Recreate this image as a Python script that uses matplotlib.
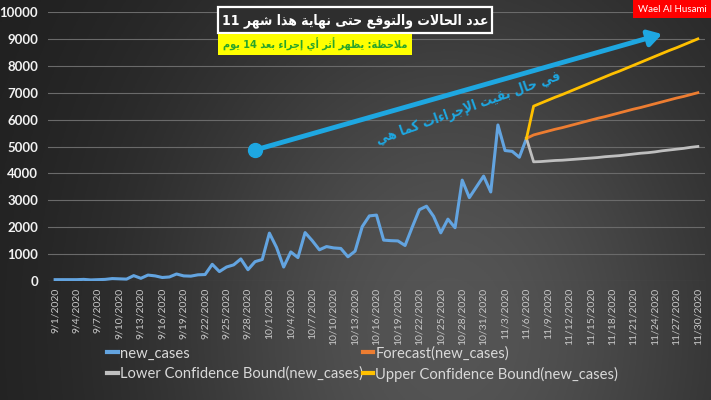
import re
import numpy as np
import pandas as pd
import matplotlib
matplotlib.use("Agg")
import matplotlib.pyplot as plt
from matplotlib.patches import Rectangle

# ---------------- data ----------------
dates = pd.date_range("2020-09-01", "2020-11-30", freq="D")
date_labels = [f"{d.month}/{d.day}/{d.year}" for d in dates]

new_cases = [50, 50, 50, 50, 60, 40, 50, 60, 90, 80,
             70, 200, 100, 220, 190, 130, 150, 260, 190, 180,
             230, 240, 620, 350, 520, 600, 820, 420, 720, 800,
             1780, 1250, 520, 1080, 870, 1800, 1500, 1160, 1280, 1230,
             1210, 900, 1110, 2020, 2420, 2450, 1520, 1500, 1490, 1320,
             2000, 2650, 2780, 2400, 1790, 2300, 1980, 3750, 3100, 3500,
             3900, 3310, 5800, 4850, 4820, 4600, 5300]

forecast = [5300, 5430, 5500, 5570, 5640, 5700, 5770, 5840, 5910, 5980,
            6050, 6110, 6180, 6250, 6320, 6390, 6450, 6520, 6590, 6660,
            6730, 6800, 6860, 6930, 7000]
lower_cb = [5300, 4430, 4440, 4460, 4480, 4490, 4510, 4530, 4550, 4570,
            4590, 4620, 4640, 4660, 4690, 4720, 4750, 4770, 4800, 4840,
            4870, 4900, 4930, 4970, 5000]
upper_cb = [5300, 6500, 6610, 6720, 6830, 6930, 7040, 7150, 7260, 7370,
            7480, 7590, 7700, 7800, 7910, 8020, 8130, 8240, 8350, 8460,
            8570, 8670, 8780, 8890, 9000]

title_text = "عدد الحالات والتوقع حتى نهاية هذا شهر 11"
note_text = "ملاحظة: يظهر أثر أي إجراء بعد 14 يوم"
arrow_text = "في حال بقيت الإجراءات كما هي"
author_text = "Wael Al Husami"

# ---------------- minimal Arabic shaping ----------------
FORMS = {
    'ء': ('\uFE80', None, None, None),
    'أ': ('\uFE83', '\uFE84', None, None),
    'إ': ('\uFE87', '\uFE88', None, None),
    'ا': ('\uFE8D', '\uFE8E', None, None),
    'ب': ('\uFE8F', '\uFE90', '\uFE91', '\uFE92'),
    'ة': ('\uFE93', '\uFE94', None, None),
    'ت': ('\uFE95', '\uFE96', '\uFE97', '\uFE98'),
    'ث': ('\uFE99', '\uFE9A', '\uFE9B', '\uFE9C'),
    'ج': ('\uFE9D', '\uFE9E', '\uFE9F', '\uFEA0'),
    'ح': ('\uFEA1', '\uFEA2', '\uFEA3', '\uFEA4'),
    'د': ('\uFEA9', '\uFEAA', None, None),
    'ذ': ('\uFEAB', '\uFEAC', None, None),
    'ر': ('\uFEAD', '\uFEAE', None, None),
    'ش': ('\uFEB5', '\uFEB6', '\uFEB7', '\uFEB8'),
    'ظ': ('\uFEC5', '\uFEC6', '\uFEC7', '\uFEC8'),
    'ع': ('\uFEC9', '\uFECA', '\uFECB', '\uFECC'),
    'ف': ('\uFED1', '\uFED2', '\uFED3', '\uFED4'),
    'ق': ('\uFED5', '\uFED6', '\uFED7', '\uFED8'),
    'ك': ('\uFED9', '\uFEDA', '\uFEDB', '\uFEDC'),
    'ل': ('\uFEDD', '\uFEDE', '\uFEDF', '\uFEE0'),
    'م': ('\uFEE1', '\uFEE2', '\uFEE3', '\uFEE4'),
    'ن': ('\uFEE5', '\uFEE6', '\uFEE7', '\uFEE8'),
    'ه': ('\uFEE9', '\uFEEA', '\uFEEB', '\uFEEC'),
    'و': ('\uFEED', '\uFEEE', None, None),
    'ى': ('\uFEEF', '\uFEF0', None, None),
    'ي': ('\uFEF1', '\uFEF2', '\uFEF3', '\uFEF4'),
}
LAM_ALEF = {'ا': ('\uFEFB', '\uFEFC'), 'أ': ('\uFEF7', '\uFEF8'),
            'إ': ('\uFEF9', '\uFEFA')}


def shape_ar(text):
    out = []
    n = len(text)
    i = 0
    prev_joins = False

    def dual(c):
        f = FORMS.get(c)
        return f is not None and f[2] is not None

    while i < n:
        c = text[i]
        if c not in FORMS:
            out.append(c)
            prev_joins = False
            i += 1
            continue
        if c == 'ل' and i + 1 < n and text[i + 1] in LAM_ALEF:
            iso, fin = LAM_ALEF[text[i + 1]]
            out.append(fin if prev_joins else iso)
            prev_joins = False
            i += 2
            continue
        nxt = text[i + 1] if i + 1 < n else None
        next_ok = dual(c) and nxt in FORMS and nxt != 'ء'
        iso, fin, ini, med = FORMS[c]
        if prev_joins and next_ok:
            out.append(med)
        elif prev_joins:
            out.append(fin)
        elif next_ok:
            out.append(ini)
        else:
            out.append(iso)
        prev_joins = next_ok
        i += 1
    vis = "".join(out)[::-1]
    vis = re.sub(r"\d+", lambda m: m.group(0)[::-1], vis)
    return vis


# ---------------- figure ----------------
W, H = 711, 400
fig = plt.figure(figsize=(W / 100, H / 100), dpi=100)

# background gradient
bg = fig.add_axes([0, 0, 1, 1], zorder=-10)
xx, yy = np.meshgrid(np.linspace(0, W, 300), np.linspace(0, H, 200))
val = 30 + 55 * np.exp(-((xx - 450) / 300) ** 2 - ((yy - 330) / 380) ** 2)
img = np.dstack([val, val, val]) / 255.0
bg.imshow(np.clip(img, 0, 1), extent=[0, W, H, 0], aspect="auto")
bg.set_axis_off()


def px(x0, y0, x1, y1):
    return [x0 / W, 1 - y1 / H, (x1 - x0) / W, (y1 - y0) / H]


ax = fig.add_axes(px(48, 12, 705, 281))
ax.patch.set_alpha(0)

x_all = np.arange(len(dates))
x_act = x_all[:len(new_cases)]
x_fc = x_all[len(new_cases) - 1:len(new_cases) - 1 + len(forecast)]

l1, = ax.plot(x_act, new_cases, color="#63a4e0", lw=2.2, label="new_cases")
l2, = ax.plot(x_fc, forecast, color="#ed7d31", lw=2, label="Forecast(new_cases)")
l3, = ax.plot(x_fc, lower_cb, color="#bfbfbf", lw=2,
              label="Lower Confidence Bound(new_cases)")
l4, = ax.plot(x_fc, upper_cb, color="#ffc000", lw=2,
              label="Upper Confidence Bound(new_cases)")

ax.set_xlim(-1, 91)
ax.set_ylim(0, 10000)
ax.set_yticks(np.arange(0, 10001, 1000))
ax.set_yticklabels([str(v) for v in range(0, 10001, 1000)],
                   fontdict=dict(family="Lato", weight="bold", size=9.5,
                                 color="#f2f2f2"))
ax.set_xticks(x_all[::3])
ax.set_xticklabels(date_labels[::3], rotation=90, family="Lato", size=7.5,
                   color="#c8c8c8")
ax.tick_params(length=0)
ax.tick_params(axis="y", pad=7)
ax.tick_params(axis="x", pad=5)
for s in ax.spines.values():
    s.set_visible(False)
ax.grid(axis="y", color="#6a6a6a", lw=0.8)
ax.set_axisbelow(True)

# arrow annotation
arrow_col = "#1ea7e1"
ax.annotate("", xy=(85, 9180), xytext=(28, 4870),
            arrowprops=dict(arrowstyle="-|>,head_length=0.5,head_width=0.3",
                            lw=3.5, color=arrow_col,
                            mutation_scale=16, shrinkA=0, shrinkB=0))
ax.plot([28], [4870], "o", color=arrow_col, ms=10, zorder=5)
ax.text(57.8, 6430, shape_ar(arrow_text), rotation=19.5, rotation_mode="anchor",
        ha="center", va="center", color=arrow_col, family="DejaVu Sans",
        stretch="condensed", weight="bold", size=9.8)

# title and note boxes
fig.patches.append(Rectangle((218 / W, 1 - 33 / H), (492 - 218) / W, 26 / H,
                             transform=fig.transFigure, facecolor="#2e2e2e",
                             edgecolor="white", lw=1.6))
fig.text(355 / W, 1 - 20.5 / H, shape_ar(title_text), ha="center", va="center",
         color="white", family="DejaVu Sans", stretch="condensed",
         weight="bold", size=10)
fig.patches.append(Rectangle((218 / W, 1 - 55 / H), (412 - 218) / W, 21 / H,
                             transform=fig.transFigure, facecolor="#ffff00",
                             edgecolor="none"))
fig.text(315 / W, 1 - 44.5 / H, shape_ar(note_text), ha="center", va="center",
         color="#2aa52a", family="DejaVu Sans", stretch="condensed",
         weight="bold", size=7.8)

# author badge
fig.patches.append(Rectangle((633 / W, 1 - 18 / H), (711 - 633) / W, 18 / H,
                             transform=fig.transFigure, facecolor="#ff0000",
                             edgecolor="none"))
fig.text(672 / W, 1 - 9 / H, author_text, ha="center", va="center",
         color="white", family="Lato", size=7)

# legend (column-wise fill)
leg = fig.legend([l1, l3, l2, l4],
                 [l1.get_label(), l3.get_label(), l2.get_label(), l4.get_label()],
                 ncol=2, loc="upper left", bbox_to_anchor=(94 / W, 1 - 333 / H),
                 frameon=False, handlelength=0.7, handletextpad=0.15,
                 columnspacing=0.0, labelspacing=0.4,
                 prop=dict(family="Lato", size=10.6))
for t in leg.get_texts():
    t.set_color("#d9d9d9")
for h in leg.legend_handles:
    h.set_linewidth(3)

fig.savefig("out.png", dpi=100)
